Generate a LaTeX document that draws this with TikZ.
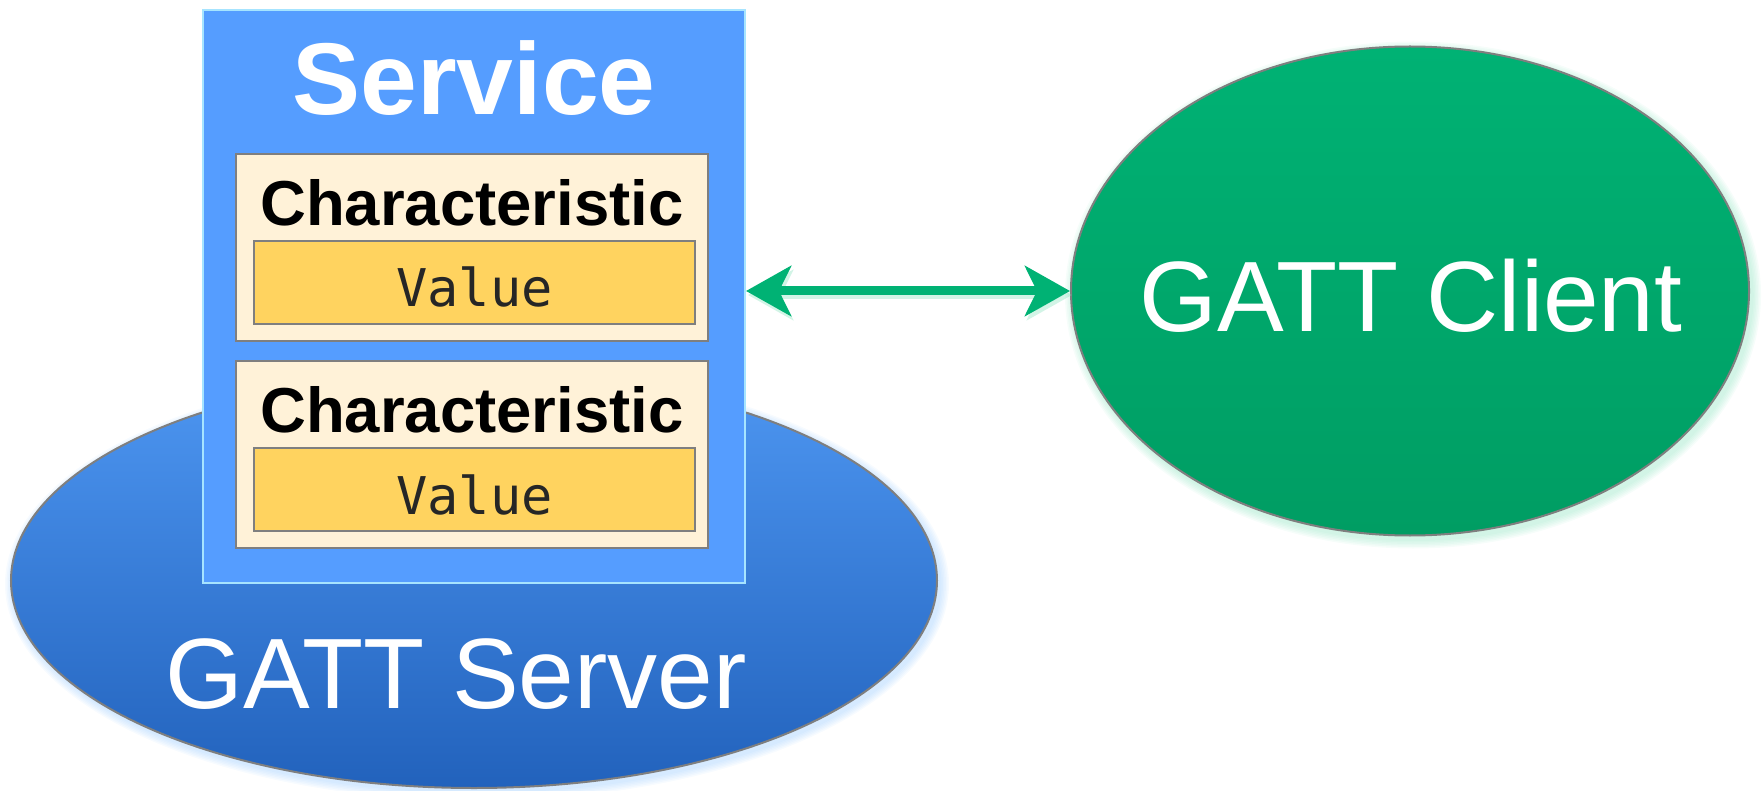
\documentclass[tikz,border=0pt]{standalone}
\usepackage{fontspec}
\setmainfont{Liberation Sans}
\newfontfamily\valfont{DejaVu Sans Mono}
\usetikzlibrary{shapes.geometric,arrows.meta}
\definecolor{svcblue}{HTML}{559DFF}
\definecolor{svcedge}{HTML}{A6E4FF}
\definecolor{charfill}{HTML}{FFF2D8}
\definecolor{valfill}{HTML}{FFD35F}
\definecolor{edgegray}{HTML}{7F7F7F}
\definecolor{srvtop}{HTML}{4E97F2}
\definecolor{srvbot}{HTML}{2262BC}
\definecolor{clitop}{HTML}{00B274}
\definecolor{clibot}{HTML}{009D63}
\definecolor{arrowgreen}{HTML}{00B274}
\definecolor{glowblue}{HTML}{8CC4FF}
\definecolor{glowgreen}{HTML}{7FE0B8}
\begin{document}
\begin{tikzpicture}[x=1pt,y=-1pt,
  bigtxt/.style={font=\fontsize{100}{120}\selectfont, text=white, inner sep=0pt, anchor=base},
  svctxtstyle/.style={font=\fontsize{102}{120}\selectfont\bfseries, text=white, inner sep=0pt, anchor=base},
  chartxt/.style={font=\fontsize{63.5}{76}\selectfont\bfseries, text=black, inner sep=0pt, anchor=base},
  valtxt/.style={font=\valfont\fontsize{52}{62}\selectfont, text=black!85, inner sep=0pt, anchor=base},
  srvshape/.style={ellipse, draw=edgegray, line width=2pt, top color=srvtop, bottom color=srvbot, minimum width=926pt, minimum height=415pt, inner sep=0pt},
  clishape/.style={ellipse, draw=edgegray, line width=2pt, top color=clitop, bottom color=clibot, minimum width=678pt, minimum height=489pt, inner sep=0pt},
  svcbox/.style={rectangle, fill=svcblue, draw=svcedge, line width=2pt, minimum width=542.5pt, minimum height=573pt, inner sep=0pt},
  charbox/.style={rectangle, fill=charfill, draw=edgegray, line width=2pt, minimum width=472pt, minimum height=187pt, inner sep=0pt},
  valbox/.style={rectangle, fill=valfill, draw=edgegray, line width=2pt, minimum width=441pt, minimum height=83pt, inner sep=0pt},
  conn/.style={draw=arrowgreen, line width=9pt, {Stealth[length=45pt, width=50pt, inset=12pt]}-{Stealth[length=45pt, width=50pt, inset=12pt]}},
  connglow/.style={draw=glowgreen, line width=9pt, opacity=0.35, {Stealth[length=45pt, width=50pt, inset=12pt]}-{Stealth[length=45pt, width=50pt, inset=12pt]}}
]
\useasboundingbox (0,0) rectangle (1764,791);

% glows
\foreach \i in {1,...,6}
  \node[ellipse, fill=glowblue, opacity=0.07, minimum width={926pt+3pt*\i}, minimum height={415pt+3pt*\i}, inner sep=0pt] (sg\i) at (477,584) {};
\foreach \i in {1,...,6}
  \node[ellipse, fill=glowgreen, opacity=0.07, minimum width={678pt+3pt*\i}, minimum height={489pt+3pt*\i}, inner sep=0pt] (cg\i) at (1413,295) {};

% GATT server
\node[srvshape] (srv) at (474,580.5) {};
\node[bigtxt] (srvtxt) at (456,708) {GATT Server};

% Service
\node[svcbox] (svc) at (473.75,296.5) {};
\node[svctxtstyle] (svctxt) at (474,115) {Service};

\node[charbox] (ch1) at (472,247.5) {};
\node[chartxt] (ch1txt) at (472,225.5) {Characteristic};
\node[valbox] (v1) at (474.5,282.5) {};
\node[valtxt] (v1txt) at (474.5,307) {Value};

\node[charbox] (ch2) at (472,454.5) {};
\node[chartxt] (ch2txt) at (472,432.5) {Characteristic};
\node[valbox] (v2) at (474.5,489.5) {};
\node[valtxt] (v2txt) at (474.5,514) {Value};

% GATT client
\node[clishape] (cli) at (1410,291) {};
\node[bigtxt] (clitxt) at (1411,332) {GATT Client};

% connector
\coordinate (svcr) at (svc.east |- cli.west);
\draw[connglow, transform canvas={xshift=2pt, yshift=-4pt}] (svcr) -- (cli.west);
\draw[conn] (svcr) -- (cli.west);
\end{tikzpicture}
\end{document}
